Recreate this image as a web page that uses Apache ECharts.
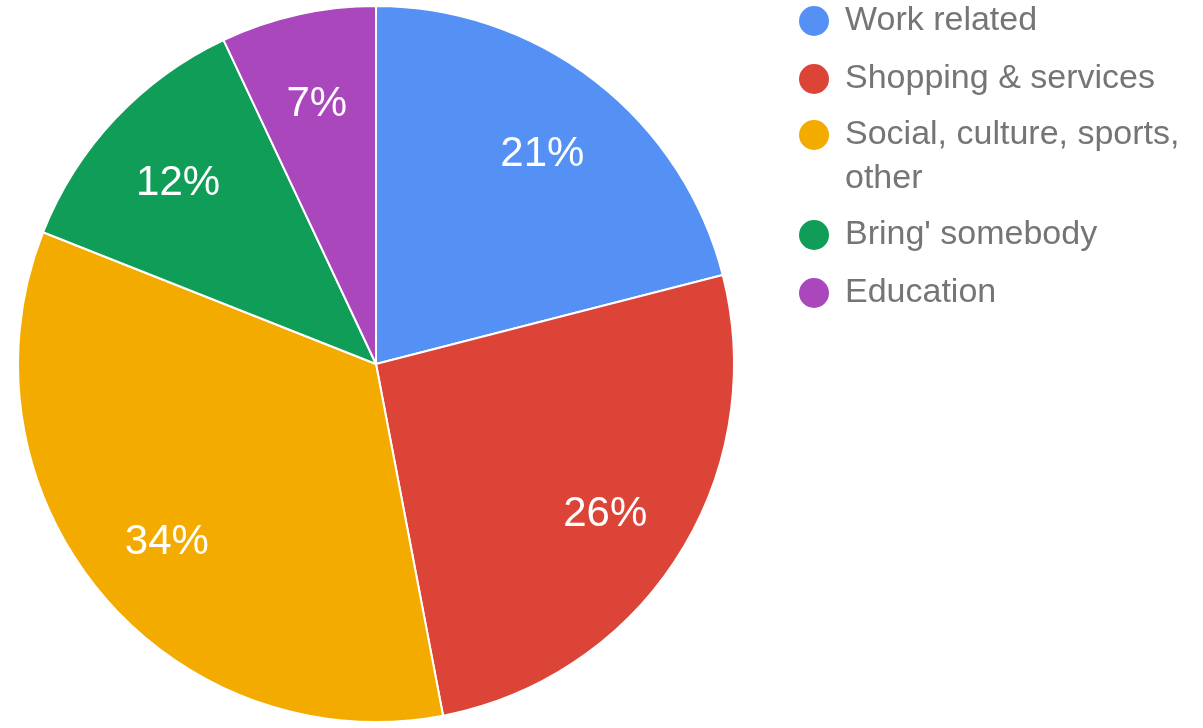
<!DOCTYPE html>
<html>
<head>
<meta charset="utf-8">
<script src="https://cdn.jsdelivr.net/npm/echarts@6/dist/echarts.min.js"></script>
<style>
  html, body { margin: 0; padding: 0; background: #ffffff; }
  #chart { width: 1203px; height: 728px; }
</style>
</head>
<body>
<div id="chart"></div>
<script>
// Trip purposes and their shares (percent)
const categories = ['Work related', 'Shopping & services', 'Social, culture, sports, other', "Bring' somebody", 'Education'];
const shares = [21, 26, 34, 12, 7];
const colors = ['#5591f5', '#db4437', '#f4ab00', '#0f9d58', '#ab47bc'];

const FONT = 'Arial, "Liberation Sans", sans-serif';
const R = 358;
const CENTER = [376, 364];

const pieData = categories.map((name, i) => ({
  name: name,
  value: shares[i],
  itemStyle: { color: colors[i] }
}));

const legendBase = {
  orient: 'vertical',
  left: 799,
  padding: 0,
  icon: 'circle',
  itemWidth: 30,
  itemHeight: 30,
  itemStyle: { borderWidth: 0 },
  selectedMode: false,
  textStyle: {
    fontFamily: FONT,
    fontSize: 34,
    color: '#757575',
    lineHeight: 36,
    padding: [0, 0, 0, 11]
  }
};

const chart = echarts.init(document.getElementById('chart'), null, { renderer: 'canvas' });
chart.setOption({
  backgroundColor: '#ffffff',
  animation: false,
  legend: [
    Object.assign({}, legendBase, {
      top: 3,
      itemGap: 22,
      data: [categories[0], categories[1]]
    }),
    Object.assign({}, legendBase, {
      // wrapped entry: a leading empty line keeps the first text line level with the dot
      top: 69,
      data: [categories[2]],
      formatter: () => '\nSocial, culture, sports,\nother',
      textStyle: Object.assign({}, legendBase.textStyle, {
        lineHeight: 44
      })
    }),
    Object.assign({}, legendBase, {
      top: 217,
      itemGap: 22,
      data: [categories[3], categories[4]]
    })
  ],
  series: [
    {
      name: 'Purpose',
      type: 'pie',
      center: CENTER,
      radius: [0, R],
      startAngle: 90,
      clockwise: true,
      silent: true,
      itemStyle: { borderColor: '#ffffff', borderWidth: 2 },
      label: { show: false },
      labelLine: { show: false },
      emphasis: { disabled: true },
      data: pieData
    },
    {
      // label ring: places the percentages at three quarters of the radius
      name: 'Purpose labels',
      type: 'pie',
      center: CENTER,
      radius: [R / 2, R],
      startAngle: 90,
      clockwise: true,
      silent: true,
      legendHoverLink: false,
      itemStyle: { color: 'rgba(0,0,0,0)', borderWidth: 0 },
      label: {
        show: true,
        position: 'inside',
        formatter: '{c}%',
        color: '#ffffff',
        fontFamily: FONT,
        fontSize: 42,
        offset: [0, 5]
      },
      labelLine: { show: false },
      emphasis: { disabled: true },
      data: categories.map((name, i) => ({ name: name, value: shares[i] }))
    }
  ]
});
</script>
</body>
</html>
